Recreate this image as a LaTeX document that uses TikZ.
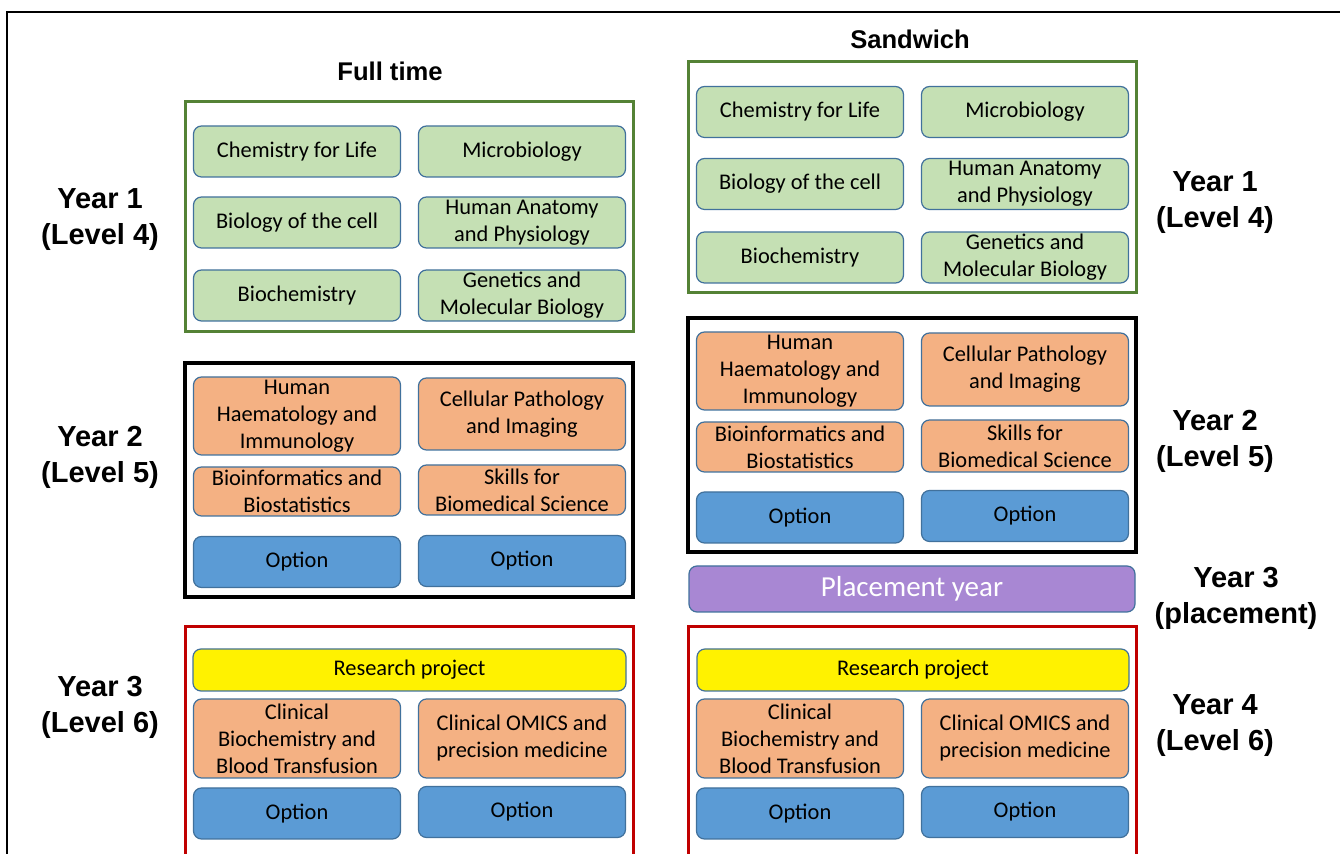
\documentclass[tikz,border=0pt]{standalone}
\usepackage{fontspec}
\setmainfont{Carlito}
\newfontfamily\labelfont{Liberation Sans}
\usetikzlibrary{positioning}

\definecolor{yonegreen}{HTML}{548235}
\definecolor{ythreered}{HTML}{C00000}
\definecolor{modedge}{HTML}{41719C}
\definecolor{corefill}{HTML}{C5E0B4}
\definecolor{advfill}{HTML}{F4B183}
\definecolor{optfill}{HTML}{5B9BD5}
\definecolor{placefill}{HTML}{A887D3}

\begin{document}
\begin{tikzpicture}[x=0.5pt, y=-0.5pt,
  mod/.style={draw=modedge, line width=0.6pt, rounded corners=4pt, minimum width=103.5pt,
    align=center, inner sep=0pt, font=\fontsize{11.2}{13.5}\selectfont},
  core/.style={mod, fill=corefill, minimum height=25.5pt},
  adv/.style={mod, fill=advfill},
  opt/.style={mod, fill=optfill, minimum height=25.5pt},
  yearlabel/.style={align=center, font=\labelfont\bfseries\fontsize{14.5}{18}\selectfont},
  coltitle/.style={font=\labelfont\bfseries\fontsize{12.8}{14}\selectfont}]
\useasboundingbox (0,0) rectangle (1340,854);
% frame
\draw[line width=1pt] (7,854) -- (7,12) -- (1340,12);

% titles
\node[coltitle] (fulltime) at (390,71) {Full time};
\node[coltitle] (sandwich) at (910,39) {Sandwich};

% year boxes
\draw[yonegreen, line width=1.5pt] (185,102) rectangle (633,332);
\draw[black, line width=2pt] (185,363) rectangle (633,597);
\draw[ythreered, line width=1.5pt] (185,854) |- (633,627) -- (633,854);
\draw[yonegreen, line width=1.5pt] (688,62) rectangle (1136,293);
\draw[black, line width=2pt] (688,318) rectangle (1136,552);
\draw[ythreered, line width=1.5pt] (688,854) |- (1136,627) -- (1136,854);

% year labels
\node[yearlabel] (ftyone) at (100,220) {Year 1\\(Level 4)};
\node[yearlabel] (ftytwo) at (100,457) {Year 2\\(Level 5)};
\node[yearlabel] (ftythree) at (100,707) {Year 3\\(Level 6)};
\node[yearlabel] (swyone) at (1215,203) {Year 1\\(Level 4)};
\node[yearlabel] (swytwo) at (1215,441) {Year 2\\(Level 5)};
\node[yearlabel] (swythree) at (1236,598) {Year 3\\(placement)};
\node[yearlabel] (swyfour) at (1215,726) {Year 4\\(Level 6)};

% full time, year 1
\node[core] (ftchem) at (297,151.5) {Chemistry for Life};
\node[core] (ftmicro) at (522,151.5) {Microbiology};
\node[core] (ftcell) at (297,222.5) {Biology of the cell};
\node[core] (ftanat) at (522,222.5) {Human Anatomy\\and Physiology};
\node[core] (ftbiochem) at (297,295.5) {Biochemistry};
\node[core] (ftgen) at (522,295.5) {Genetics and\\Molecular Biology};

% full time, year 2
\node[adv, minimum height=39pt] (fthaem) at (297,416) {Human\\Haematology and\\Immunology};
\node[adv, minimum height=36pt] (ftpath) at (522,414) {Cellular Pathology\\and Imaging};
\node[adv, minimum height=24.5pt] (ftbioinf) at (297,491.5) {Bioinformatics and\\Biostatistics};
\node[adv, minimum height=25pt] (ftskills) at (522,490) {Skills for\\Biomedical Science};
\node[opt] (ftopta) at (297,562) {Option};
\node[opt] (ftoptb) at (522,561) {Option};

% full time, year 3
\node[mod, fill=yellow, minimum width=216.5pt, minimum height=21pt] (ftproj) at (409.5,670) {Research project};
\node[adv, minimum height=39.5pt] (ftclin) at (297,738.5) {Clinical\\Biochemistry and\\Blood Transfusion};
\node[adv, minimum height=39.5pt] (ftomics) at (522,738.5) {Clinical OMICS and\\precision medicine};
\node[opt] (ftoptc) at (297,813.5) {Option};
\node[opt] (ftoptd) at (522,812) {Option};

% sandwich, year 1
\node[core] (swchem) at (800,112) {Chemistry for Life};
\node[core] (swmicro) at (1025,112) {Microbiology};
\node[core] (swcell) at (800,184) {Biology of the cell};
\node[core] (swanat) at (1025,184) {Human Anatomy\\and Physiology};
\node[core] (swbiochem) at (800,257.5) {Biochemistry};
\node[core] (swgen) at (1025,257.5) {Genetics and\\Molecular Biology};

% sandwich, year 2
\node[adv, minimum height=39pt] (swhaem) at (800,371) {Human\\Haematology and\\Immunology};
\node[adv, minimum height=36.5pt] (swpath) at (1025,369.5) {Cellular Pathology\\and Imaging};
\node[adv, minimum height=25pt] (swbioinf) at (800,447) {Bioinformatics and\\Biostatistics};
\node[adv, minimum height=26pt] (swskills) at (1025,446) {Skills for\\Biomedical Science};
\node[opt] (swopta) at (800,517.5) {Option};
\node[opt] (swoptb) at (1025,516) {Option};

% sandwich, year 3
\node[mod, fill=placefill, minimum width=223pt, minimum height=23pt, text=white,
  font=\fontsize{14.5}{16}\selectfont] (swplace) at (912,589) {Placement year};

% sandwich, year 4
\node[mod, fill=yellow, minimum width=216pt, minimum height=21pt] (swproj) at (913,670) {Research project};
\node[adv, minimum height=39.5pt] (swclin) at (800,738.5) {Clinical\\Biochemistry and\\Blood Transfusion};
\node[adv, minimum height=39.5pt] (swomics) at (1025,738.5) {Clinical OMICS and\\precision medicine};
\node[opt] (swoptc) at (800,813.5) {Option};
\node[opt] (swoptd) at (1025,812) {Option};
\end{tikzpicture}
\end{document}
